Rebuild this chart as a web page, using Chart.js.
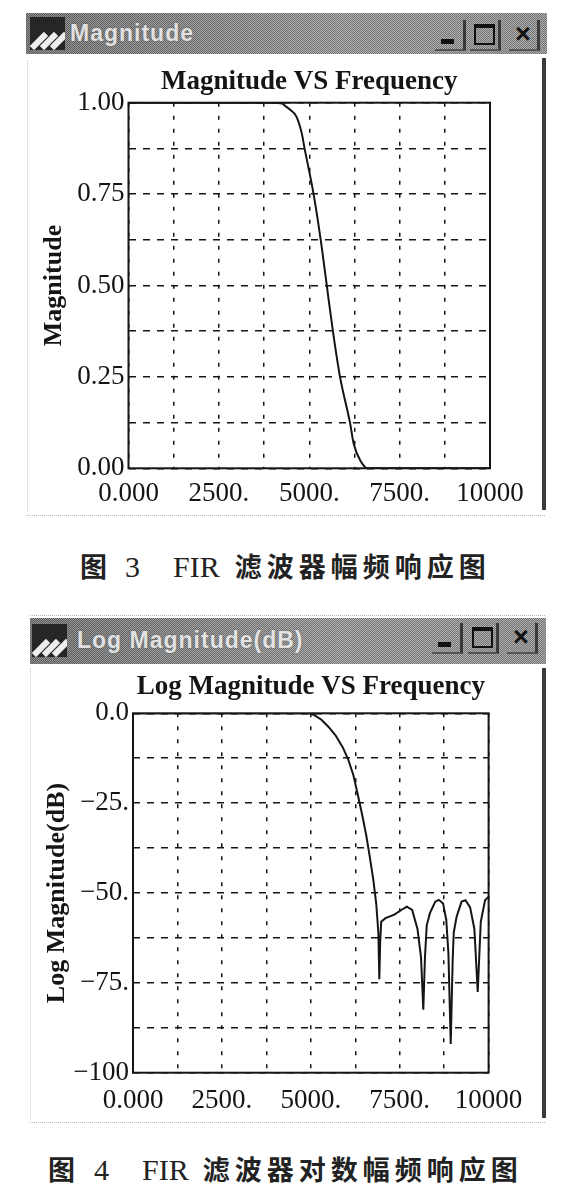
<!DOCTYPE html>
<html>
<head>
<meta charset="utf-8">
<title>FIR filter response</title>
<script src="https://cdn.jsdelivr.net/npm/chart.js@4.4.1/dist/chart.umd.min.js"></script>
<style>
  html, body { margin: 0; padding: 0; background: #fff; }
  body { position: relative; width: 561px; height: 1197px; overflow: hidden; }
  .bar {
    position: absolute;
    background:
      repeating-conic-gradient(rgba(0,0,0,.25) 0 25%, rgba(255,255,255,.2) 0 50%) 0 0 / 2px 2px,
      linear-gradient(90deg, #777, #9f9f9f 60%, #9a9a9a);
  }
  .icon { position: absolute; width: 35px; height: 33px; background: #262626; overflow: hidden; }
  .icon i { position: absolute; width: 6px; height: 20px; background: #eee; transform: rotate(45deg); }
  .wintitle {
    position: absolute; color: #f2f2f2; opacity: .85; white-space: nowrap;
    font: bold 23px "Liberation Sans", Arial, sans-serif; letter-spacing: 1px;
    text-shadow: 0 0 2px #555;
  }
  .btn { position: absolute; width: 31px; height: 31px; box-sizing: border-box;
         border-right: 3px solid #3a3a3a; border-bottom: 2px solid #555; }
  .btn.min::after { content: ""; position: absolute; left: 6px; bottom: 5px; width: 13px; height: 5px; background: #111; }
  .btn.max::after { content: ""; position: absolute; left: 4px; top: 4px; width: 17px; height: 15px;
                    border: 2px solid #111; border-top-width: 4px; }
  .btn.cls { font: bold 27px "Liberation Sans", Arial, sans-serif; color: #111; line-height: 29px; text-align: center; }
  .edge { position: absolute; background: #3b3b3b; }
  .dots { position: absolute; border-top: 1px dotted #b5b5b5; }
  .ldots { position: absolute; border-left: 1px dotted #d0d0d0; }
  canvas { position: absolute; left: 0; }
  .cap { position: absolute; height: 36px; line-height: 36px; white-space: nowrap; color: #222; }
  .cap .cj { font: bold 27px "Noto Sans CJK SC", sans-serif; letter-spacing: 5px; }
  .cap .lt { font: 30px "Liberation Serif", serif; }
</style>
</head>
<body>

<!-- window 1 -->
<div class="bar" style="left:26px;top:13px;width:521px;height:41px"></div>
<div class="icon" style="left:30px;top:17px"><i style="left:6px;top:14px"></i><i style="left:16px;top:14px"></i><i style="left:26px;top:14px"></i></div>
<div class="wintitle" style="left:70px;top:20px">Magnitude</div>
<div class="btn min" style="left:435px;top:20px"></div>
<div class="btn max" style="left:470px;top:20px"></div>
<div class="btn cls" style="left:509px;top:20px">×</div>
<div class="edge" style="left:542px;top:58px;width:4px;height:452px"></div>
<div class="ldots" style="left:27px;top:60px;height:452px"></div>
<div class="dots" style="left:27px;top:515px;width:518px"></div>
<canvas id="magnitude-chart" width="561" height="462" style="top:58px;width:561px;height:462px"></canvas>
<div class="cap" style="left:80px;top:546px"><span class="cj">图</span><span class="lt" style="margin-left:13px">3</span><span class="lt" style="margin-left:33px">FIR</span><span class="cj" style="margin-left:15px">滤波器幅频响应图</span></div>

<!-- window 2 -->
<div class="dots" style="left:30px;top:615px;width:515px"></div>
<div class="bar" style="left:30px;top:618px;width:516px;height:46px"></div>
<div class="icon" style="left:32px;top:624px"><i style="left:6px;top:14px"></i><i style="left:16px;top:14px"></i><i style="left:26px;top:14px"></i></div>
<div class="wintitle" style="left:77px;top:627px">Log Magnitude(dB)</div>
<div class="btn min" style="left:432px;top:623px"></div>
<div class="btn max" style="left:468px;top:623px"></div>
<div class="btn cls" style="left:507px;top:623px">×</div>
<div class="edge" style="left:542px;top:668px;width:4px;height:450px"></div>
<div class="ldots" style="left:30px;top:668px;height:452px"></div>
<div class="dots" style="left:30px;top:1122px;width:515px"></div>
<canvas id="log-chart" width="561" height="465" style="top:665px;width:561px;height:465px"></canvas>
<div class="cap" style="left:48px;top:1149px"><span class="cj">图</span><span class="lt" style="margin-left:14px">4</span><span class="lt" style="margin-left:33px">FIR</span><span class="cj" style="margin-left:14px">滤波器对数幅频响应图</span></div>

<script>
// tick labels
const freqTicks = [0, 2500, 5000, 7500, 10000];
const freqLabels = ['0.000', '2500.', '5000.', '7500.', '10000'];
const magTicks = [0, 0.25, 0.5, 0.75, 1];
const magLabels = ['0.00', '0.25', '0.50', '0.75', '1.00'];
const dbTicks = [0, -25, -50, -75, -100];
const dbLabels = ['0.0', '−25.', '−50.', '−75.', '−100'];

// figure 3 - magnitude
const magFreq = [0, 4000, 4249, 4349, 4480, 4645, 4794, 4871, 5120, 5317, 5485, 5654, 5851, 6127, 6227, 6420, 6622, 10000];
const magValue = [1, 1, 0.998, 0.99, 0.98, 0.962, 0.916, 0.875, 0.75, 0.625, 0.5, 0.375, 0.25, 0.125, 0.068, 0.02, 0, 0];

// figure 4 - log magnitude (dB)
const dbFreq = [0, 4960, 5100, 5300, 5500, 5700, 5900, 6050, 6200, 6330, 6450, 6560, 6660, 6760, 6840, 6900, 6927, 6950, 6980,
  7100, 7350, 7500, 7700, 7850, 8000, 8100, 8164, 8210, 8260, 8350, 8500, 8600, 8720, 8810, 8870, 8935,
  8990, 9020, 9100, 9240, 9350, 9480, 9600, 9694, 9780, 9900, 10000];
const dbValue = [0, 0, -0.5, -1.8, -3.8, -6.2, -9.5, -12.8, -17.3, -23, -28.5, -34, -40, -46.5, -53, -61, -74, -64, -58,
  -57, -56, -55, -53.8, -54.7, -60, -68, -82.5, -68, -59, -55.6, -52.4, -51.9, -52.9, -57.5, -66.8, -92,
  -68.6, -61, -56.6, -52.4, -52, -54, -60, -77.5, -58, -52, -51];

const serif = '"Liberation Serif", "Times New Roman", serif';
const ink = '#151515';

const labelFor = (values, labels) => (v) => {
  const i = values.findIndex(t => Math.abs(t - v) < 1e-6);
  return i < 0 ? '' : labels[i];
};

// solid box round the plot area
const plotFrame = {
  id: 'plotFrame',
  afterDraw(chart) {
    const { ctx, chartArea: a } = chart;
    ctx.save();
    ctx.strokeStyle = ink;
    ctx.lineWidth = 2;
    ctx.strokeRect(a.left, a.top, a.right - a.left, a.bottom - a.top);
    ctx.restore();
  }
};

const createResponseChart = (id, cfg) => {
  return new Chart(document.getElementById(id), {
    type: 'line',
    data: {
      datasets: [{
        data: cfg.freq.map((f, i) => ({ x: f, y: cfg.values[i] })),
        borderColor: ink,
        borderWidth: 2,
        pointRadius: 0,
        cubicInterpolationMode: cfg.smooth ? 'monotone' : 'default',
        tension: 0,
      }]
    },
    options: {
      responsive: false,
      animation: false,
      layout: {
        padding: { left: 8, right: cfg.padRight, top: 0, bottom: 0 }
      },
      scales: {
        x: {
          type: 'linear',
          min: 0,
          max: 10000,
          grid: { color: ink, lineWidth: 1.5, drawTicks: false },
          border: { display: false, dash: [4, 9] },
          ticks: {
            stepSize: 1250,
            autoSkip: false,
            maxRotation: 0,
            padding: cfg.xPad,
            color: ink,
            font: { family: serif, size: 27 },
            callback: labelFor(freqTicks, freqLabels),
          },
          afterFit: (scale) => {
            scale.height = cfg.xHeight;
            scale.paddingLeft = 0;
            scale.paddingRight = 0;
          }
        },
        y: {
          type: 'linear',
          min: cfg.yMin,
          max: cfg.yMax,
          grid: { color: ink, lineWidth: 1.5, drawTicks: false },
          border: { display: false, dash: [7, 7] },
          ticks: {
            stepSize: cfg.yStep,
            autoSkip: false,
            padding: 4,
            color: ink,
            font: { family: serif, size: 27 },
            callback: labelFor(cfg.yTicks, cfg.yLabels),
          },
          title: {
            display: true,
            text: cfg.yTitle,
            color: ink,
            font: { family: serif, size: 26, weight: 'bold' },
            padding: { top: cfg.yTitlePad, bottom: 0 },
          },
          afterFit: (scale) => {
            scale.width = cfg.yWidth;
            scale.paddingTop = 0;
            scale.paddingBottom = 0;
          }
        }
      },
      plugins: {
        legend: { display: false },
        tooltip: { enabled: false },
        title: {
          display: true,
          fullSize: false,
          text: cfg.title,
          color: ink,
          font: { family: serif, size: 27, weight: 'bold' },
          padding: cfg.titlePad,
        }
      }
    },
    plugins: [plotFrame]
  });
};

const magnitudeChart = createResponseChart('magnitude-chart', {
  freq: magFreq, values: magValue, smooth: true,
  yMin: 0, yMax: 1, yStep: 0.125, yTicks: magTicks, yLabels: magLabels,
  title: 'Magnitude VS Frequency', yTitle: 'Magnitude',
  padRight: 71, yWidth: 120.5, xHeight: 51.7, xPad: 9.4, yTitlePad: 30.4,
  titlePad: { top: 7.5, bottom: 4.8 },
});

const logChart = createResponseChart('log-chart', {
  freq: dbFreq, values: dbValue, smooth: false,
  yMin: -100, yMax: 0, yStep: 12.5, yTicks: dbTicks, yLabels: dbLabels,
  title: 'Log Magnitude VS Frequency', yTitle: 'Log Magnitude(dB)',
  padRight: 72.4, yWidth: 125, xHeight: 57.3, xPad: 11.8, yTitlePad: 33.4,
  titlePad: { top: 5.8, bottom: 10.1 },
});
</script>
</body>
</html>
